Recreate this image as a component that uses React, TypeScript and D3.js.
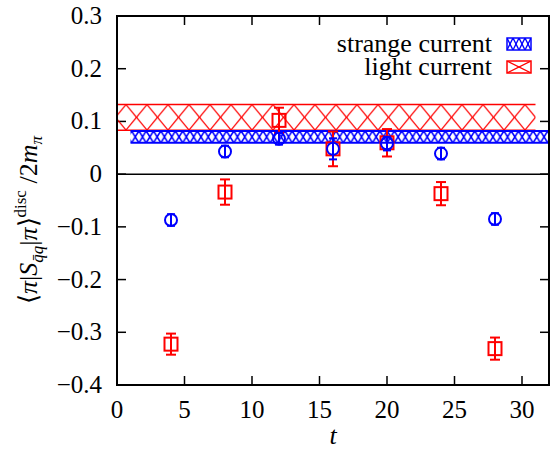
import React from "react";
import * as d3 from "d3";

const tValues = [4, 8, 12, 16, 20, 24, 28];
const strangeVals = [-0.087, 0.043, 0.067, 0.048, 0.058, 0.039, -0.085];
const strangeErrs = [0.011, 0.011, 0.011, 0.02, 0.013, 0.011, 0.011];
const lightVals = [-0.3225, -0.034, 0.102, 0.048, 0.0595, -0.037, -0.331];
const lightErrs = [0.02, 0.024, 0.024, 0.033, 0.026, 0.022, 0.021];

const strangeBand = { lo: 0.0594, hi: 0.082, t0: 1, t1: 32 };
const lightBand = { lo: 0.0835, hi: 0.132, t0: 0, t1: 31 };

const xTicks = [0, 5, 10, 15, 20, 25, 30];
const yTicks = [-0.4, -0.3, -0.2, -0.1, 0, 0.1, 0.2, 0.3];

const W = 551;
const H = 452;
const L = 117, R = 549, T = 16, B = 385;
const BLUE = "#0000ff";
const RED = "#ff0000";

const serif = { fontFamily: "Liberation Serif" };

export default function App() {
  const x = d3.scaleLinear().domain([0, 32]).range([L, R]);
  const y = d3.scaleLinear().domain([-0.4, 0.3]).range([B, T]);
  const fmt = (v: number) => {
    if (Math.abs(v) < 1e-9) return "0";
    const s = d3.format(".1f")(Math.abs(v));
    return (v < 0 ? "\u2212" : "") + s;
  };
  const lbY = y(lightBand.hi), lbH = y(lightBand.lo) - y(lightBand.hi);
  const sbY = y(strangeBand.hi), sbH = y(strangeBand.lo) - y(strangeBand.hi);
  const tick = 9;
  return (
    <svg width={W} height={H} style={{ position: "absolute", left: 0, top: 0, background: "#fff" }}>
      <defs>
        <pattern id="redHatch" patternUnits="userSpaceOnUse" x={0} y={lbY} width={21} height={lbH}>
          <line x1={0} y1={0} x2={21} y2={lbH} stroke={RED} strokeWidth={1.2} />
          <line x1={21} y1={0} x2={0} y2={lbH} stroke={RED} strokeWidth={1.2} />
        </pattern>
        <pattern id="blueHatch" patternUnits="userSpaceOnUse" x={L} y={sbY} width={7.3} height={sbH}>
          <line x1={0} y1={0} x2={7.3} y2={sbH} stroke={BLUE} strokeWidth={1.6} />
          <line x1={7.3} y1={0} x2={0} y2={sbH} stroke={BLUE} strokeWidth={1.6} />
        </pattern>
        <pattern id="redHatchLeg" patternUnits="userSpaceOnUse" x={507} y={61} width={24} height={12}>
          <line x1={0} y1={0} x2={24} y2={12} stroke={RED} strokeWidth={1.2} />
          <line x1={24} y1={0} x2={0} y2={12} stroke={RED} strokeWidth={1.2} />
        </pattern>
        <pattern id="blueHatchLeg" patternUnits="userSpaceOnUse" x={507} y={38} width={6} height={12}>
          <line x1={0} y1={0} x2={6} y2={12} stroke={BLUE} strokeWidth={1.4} />
          <line x1={6} y1={0} x2={0} y2={12} stroke={BLUE} strokeWidth={1.4} />
        </pattern>
        <clipPath id="plotClip">
          <rect x={L} y={T} width={R - L} height={B - T} />
        </clipPath>
      </defs>

      <line x1={L} x2={R} y1={y(0)} y2={y(0)} stroke="#000" strokeWidth={1.5} />

      {xTicks.map((v) => (
        <g key={"xt" + v}>
          <line x1={x(v)} x2={x(v)} y1={B} y2={B - tick} stroke="#000" strokeWidth={1.5} />
          <line x1={x(v)} x2={x(v)} y1={T} y2={T + tick} stroke="#000" strokeWidth={1.5} />
          <text x={x(v)} y={418} textAnchor="middle" style={serif} fontSize={25}>{v}</text>
        </g>
      ))}
      {yTicks.map((v) => (
        <g key={"yt" + v}>
          <line x1={L} x2={L + tick} y1={y(v)} y2={y(v)} stroke="#000" strokeWidth={1.5} />
          <line x1={R} x2={R - tick} y1={y(v)} y2={y(v)} stroke="#000" strokeWidth={1.5} />
          <text x={102} y={y(v) + 8} textAnchor="end" style={serif} fontSize={25}>{fmt(v)}</text>
        </g>
      ))}

      <g clipPath="url(#plotClip)">
        <rect x={x(lightBand.t0)} y={lbY} width={x(lightBand.t1) - x(lightBand.t0)} height={lbH} fill="url(#redHatch)" />
        <line x1={x(lightBand.t0)} x2={x(lightBand.t1)} y1={lbY} y2={lbY} stroke={RED} strokeWidth={1.5} />
        <line x1={x(lightBand.t0)} x2={x(lightBand.t1)} y1={lbY + lbH} y2={lbY + lbH} stroke={RED} strokeWidth={1.5} />
        <rect x={x(strangeBand.t0)} y={sbY} width={x(strangeBand.t1) - x(strangeBand.t0)} height={sbH} fill="url(#blueHatch)" />
        <line x1={x(strangeBand.t0)} x2={x(strangeBand.t1)} y1={sbY} y2={sbY} stroke={BLUE} strokeWidth={2} />
        <line x1={x(strangeBand.t0)} x2={x(strangeBand.t1)} y1={sbY + sbH} y2={sbY + sbH} stroke={BLUE} strokeWidth={2} />
      </g>

      {tValues.map((t, i) => {
        const cx = x(t), cy = y(lightVals[i]);
        const y1 = y(lightVals[i] + lightErrs[i]), y2 = y(lightVals[i] - lightErrs[i]);
        return (
          <g key={"l" + t} stroke={RED} strokeWidth={2} fill="none">
            <line x1={cx} x2={cx} y1={y1} y2={y2} />
            <line x1={cx - 5} x2={cx + 5} y1={y1} y2={y1} />
            <line x1={cx - 5} x2={cx + 5} y1={y2} y2={y2} />
            <rect x={cx - 6.5} y={cy - 6.5} width={13} height={13} />
          </g>
        );
      })}

      {tValues.map((t, i) => {
        const cx = x(t), cy = y(strangeVals[i]);
        const y1 = y(strangeVals[i] + strangeErrs[i]), y2 = y(strangeVals[i] - strangeErrs[i]);
        return (
          <g key={"s" + t} stroke={BLUE} strokeWidth={2} fill="none">
            <line x1={cx} x2={cx} y1={y1} y2={y2} />
            <line x1={cx - 4} x2={cx + 4} y1={y1} y2={y1} />
            <line x1={cx - 4} x2={cx + 4} y1={y2} y2={y2} />
            <circle cx={cx} cy={cy} r={6} />
          </g>
        );
      })}

      <rect x={L} y={T} width={R - L} height={B - T} fill="none" stroke="#000" strokeWidth={2} />

      <text x={492} y={52} textAnchor="end" style={serif} fontSize={26}>strange current</text>
      <rect x={507} y={38} width={24} height={12} fill="url(#blueHatchLeg)" stroke={BLUE} strokeWidth={1.5} />
      <text x={492} y={75} textAnchor="end" style={serif} fontSize={26}>light current</text>
      <rect x={507} y={61} width={24} height={12} fill="url(#redHatchLeg)" stroke={RED} strokeWidth={1.5} />

      <text x={x(16)} y={444} textAnchor="middle" style={serif} fontSize={26} fontStyle="italic">t</text>
      <text transform={`translate(37, 220) rotate(-90)`} textAnchor="middle" style={serif} fontSize={26}>
        <tspan>{"\u27E8"}</tspan>
        <tspan fontStyle="italic">{"\u03C0"}</tspan>
        <tspan>|</tspan>
        <tspan fontStyle="italic">S</tspan>
        <tspan fontStyle="italic" fontSize={17} dy={6}>{"q\u0304q"}</tspan>
        <tspan dy={-6}>|</tspan>
        <tspan fontStyle="italic">{"\u03C0"}</tspan>
        <tspan>{"\u27E9"}</tspan>
        <tspan fontSize={17} dy={-11}>disc</tspan>
        <tspan dy={11}>{" /2"}</tspan>
        <tspan fontStyle="italic">m</tspan>
        <tspan fontStyle="italic" fontSize={17} dy={5}>{"\u03C0"}</tspan>
      </text>
    </svg>
  );
}
